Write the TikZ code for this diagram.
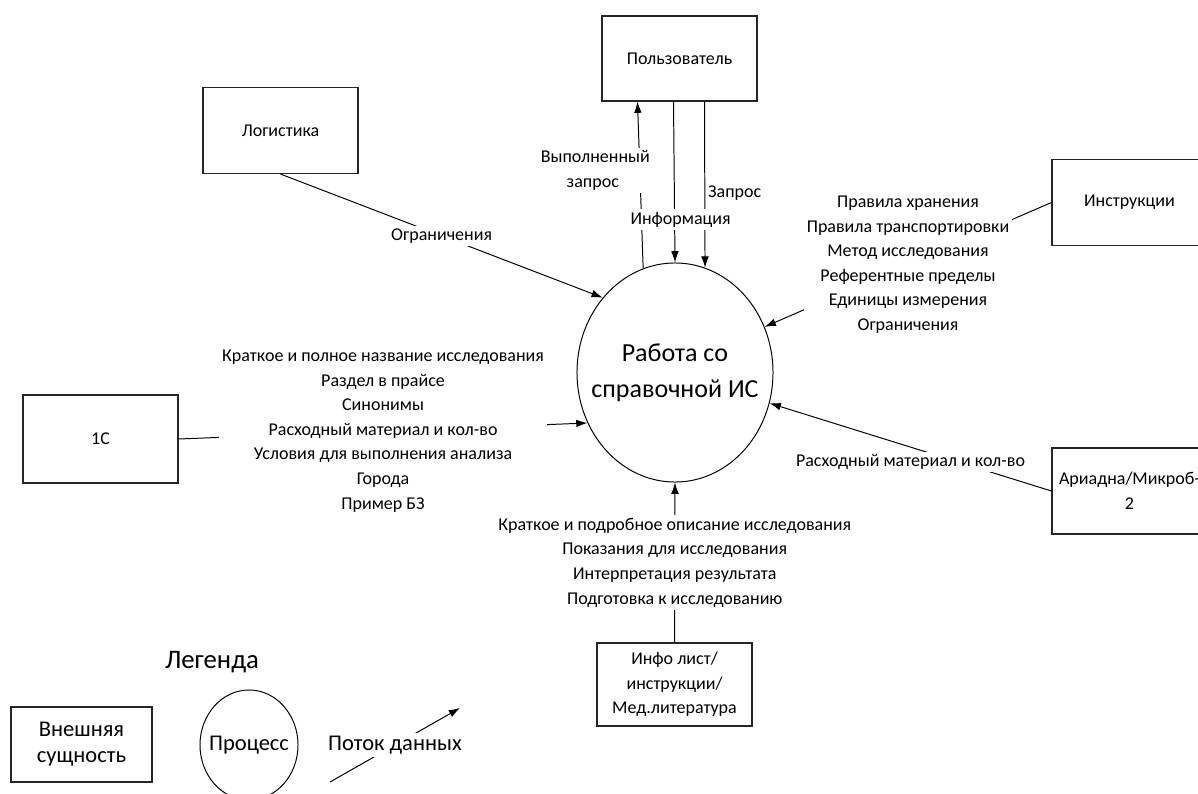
\documentclass[tikz,border=0pt]{standalone}
\usepackage{fontspec}
\setmainfont{Carlito}
\usetikzlibrary{shapes.geometric}
\usetikzlibrary{arrows.meta}

\begin{document}
\begin{tikzpicture}[x=0.025cm, y=-0.025cm,
        entity/.style={rectangle, draw=black!85, line width=0.8pt, minimum width=3.875cm, minimum height=2.15cm, align=center, font=\fontsize{12.8}{17.5}\selectfont},
        proc/.style={ellipse, draw, line width=0.7pt, inner sep=0pt},
        lbl/.style={fill=white, align=center, inner sep=2pt, font=\fontsize{12.8}{17.5}\selectfont},
        arr/.style={line width=0.7pt, -{Latex[length=8pt,width=5.5pt]}}
        ]
        \clip (0,0) rectangle (1198,794);
        \node (work) [proc, minimum width=4.9cm, minimum height=5.475cm] at (675,372.5) {};
        \node (workText) [align=center, font=\fontsize{18.5}{25.6}\selectfont] at (work.center) {Работа со\\справочной ИС};
        \node (user)     [entity, minimum height=2.125cm] at (679.5,58.5) {Пользователь};
        \node (logist)   [entity] at (280.5,130.5) {Логистика};
        \node (instr)    [entity] at (1129.5,202.5) {Инструкции};
        \node (onec)     [entity, minimum height=2.2cm] at (100.5,439) {1С};
        \node (ariadna)  [entity] at (1129.5,491) {Ариадна/Микроб-\\2};
        \node (infolist) [entity, minimum height=2.075cm] at (674.5,684.5) {Инфо лист/\\инструкции/\\Мед.литература};
        \draw[arr] (logist.south) -- node[lbl] {Ограничения} (work.134);
        \draw[arr] (work.107) -- node[lbl, pos=0.587, xshift=-1.175cm, text width=2.6cm] {Выполненный\\запрос} ([xshift=-1.05cm]user.south);
        \draw[arr] ([xshift=0.625cm]user.south) -- node[lbl, pos=0.55, right, fill=none] {Запрос} (work.74);
        \draw[arr] ([xshift=-0.15cm]user.south) -- node[lbl, pos=0.735, xshift=0.15cm] {Информация} (work.90);
        \draw[arr] (instr.west) -- node[lbl] {Правила хранения\\Правила транспортировки\\Метод исследования\\Референтные пределы\\Единицы измерения\\Ограничения} (work.27);
        \draw[arr] (ariadna.west) -- node[lbl, yshift=-0.375cm] {Расходный материал и кол-во} (work.-18);
        \draw[arr] (onec.east) -- node[lbl] {Краткое и полное название исследования\\Раздел в прайсе\\Синонимы\\Расходный материал и кол-во\\Условия для выполнения анализа\\Города\\Пример БЗ} (work.-150);
        \draw[arr] (infolist.north) -- node[lbl] {Краткое и подробное описание исследования\\Показания для исследования\\Интерпретация результата\\Подготовка к исследованию} (work.south);
        % legend
        \node (legend) [font=\fontsize{19}{23}\selectfont] at (212,662) {Легенда};
        \node (lgEnt)  [entity, minimum width=3.525cm, minimum height=1.875cm, font=\fontsize{16}{18.5}\selectfont] at (81.5,744.5) {Внешняя\\сущность};
        \node (lgProc) [proc, minimum width=2.45cm, minimum height=2.75cm] at (249,745) {};
        \node (lgProcText) [font=\fontsize{16}{18.5}\selectfont] at (lgProc.center) {Процесс};
        \coordinate (lgFrom) at (330,782);
        \coordinate (lgTo) at (460,708);
        \draw[arr] (lgFrom) -- node[lbl, font=\fontsize{16}{18.5}\selectfont] {Поток данных} (lgTo);
\end{tikzpicture}
\end{document}
